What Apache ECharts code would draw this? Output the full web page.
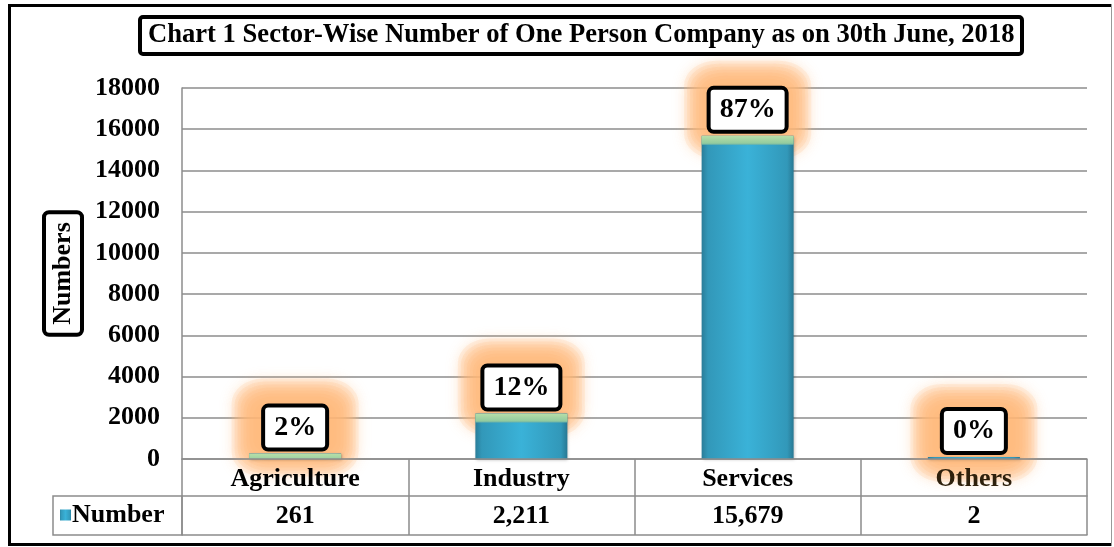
<!DOCTYPE html>
<html>
<head>
<meta charset="utf-8">
<script src="https://cdn.jsdelivr.net/npm/echarts@6/dist/echarts.min.js"></script>
<style>
html,body{margin:0;padding:0;background:#fff;}
#chart{width:1114px;height:547px;}
</style>
</head>
<body>
<div id="chart"></div>
<script>
const titleText = 'Chart 1 Sector-Wise Number of One Person Company as on 30th June, 2018';
const categories = ['Agriculture', 'Industry', 'Services', 'Others'];
const numbers = [261, 2211, 15679, 2];
const shareLabels = ['2%', '12%', '87%', '0%'];
const seriesName = 'Number';
const yAxisName = 'Numbers';
const yMin = 0, yMax = 18000, yStep = 2000;

const FONT = "'Liberation Serif', 'Times New Roman', serif";
const GRID = '#8c8c8c';

const barFill = {
  type: 'linear', x: 0, y: 0, x2: 1, y2: 0,
  colorStops: [
    {offset: 0, color: '#2a7d99'},
    {offset: 0.07, color: '#3298b9'},
    {offset: 0.5, color: '#3ab2d8'},
    {offset: 0.93, color: '#3298b9'},
    {offset: 1, color: '#287893'}
  ]
};
const bevelFill = {
  type: 'linear', x: 0, y: 0, x2: 0, y2: 1,
  colorStops: [
    {offset: 0, color: '#b7dfa9'},
    {offset: 0.8, color: '#94cc9f'},
    {offset: 1, color: '#6fb3a6'}
  ]
};

// glow layers around the percentage labels (style only)
const LABEL_W = 73, LABEL_H = 44, LABEL_CENTER_ABOVE = 26;
const glowSpread = [5, 9, 12, 15, 18, 21, 24, 27];
const glowSeries = glowSpread.map(function (e, k) {
  const w = LABEL_W + 2 * e, h = LABEL_H + 2 * e;
  return {
    name: 'glow' + k, type: 'pictorialBar', data: numbers, z: 1, silent: true,
    symbol: 'roundRect', symbolSize: [w, h], symbolPosition: 'end',
    symbolOffset: [0, -(h / 2 + LABEL_CENTER_ABOVE)],
    itemStyle: {color: '#fcb878', shadowColor: '#fcb878', shadowBlur: 14, opacity: 0.155}
  };
});

const chart = echarts.init(document.getElementById('chart'), null, {renderer: 'canvas'});

const option = {
  animation: false,
  backgroundColor: '#fff',
  title: {
    text: titleText,
    left: 140, top: 17,
    padding: [3, 8, 3, 8],
    borderColor: '#000', borderWidth: 4, borderRadius: 3,
    backgroundColor: '#fff',
    textStyle: {fontFamily: FONT, fontWeight: 'bold', fontSize: 26.6, lineHeight: 31, color: '#000'}
  },
  legend: {
    data: [seriesName],
    left: 60, top: 500, padding: 0,
    itemWidth: 11, itemHeight: 11, itemGap: 2,
    icon: 'rect',
    textStyle: {fontFamily: FONT, fontWeight: 'bold', fontSize: 26, lineHeight: 30, color: '#000', padding: [0, 0, 0, -4]}
  },
  grid: {left: 182, right: 27, top: 88, bottom: 88, containLabel: false},
  xAxis: [
    {
      type: 'category', data: categories, position: 'bottom', z: 5,
      axisLine: {show: true, lineStyle: {color: GRID, width: 1.5}},
      axisTick: {show: true, length: 76, interval: 0, lineStyle: {color: GRID, width: 1.5}},
      axisLabel: {
        interval: 0, margin: 5, fontFamily: FONT, fontWeight: 'bold', fontSize: 26, lineHeight: 30,
        color: function (v) { return v === 'Others' ? '#2e200c' : '#000'; }
      }
    },
    {
      type: 'category', data: categories, position: 'bottom', offset: 37,
      axisLine: {show: true, lineStyle: {color: GRID, width: 1.5}},
      axisTick: {show: false},
      axisLabel: {
        interval: 0, margin: 5, fontFamily: FONT, fontWeight: 'bold', fontSize: 26, lineHeight: 30, color: '#000',
        formatter: function (v, i) { return numbers[i].toLocaleString('en-US'); }
      }
    },
    {
      type: 'category', data: categories, position: 'bottom', offset: 76,
      axisLine: {show: true, lineStyle: {color: GRID, width: 1.5}},
      axisTick: {show: false}, axisLabel: {show: false}
    }
  ],
  yAxis: {
    type: 'value', min: yMin, max: yMax, interval: yStep,
    name: yAxisName, nameLocation: 'middle', nameRotate: 90, nameGap: 102,
    nameTextStyle: {
      fontFamily: FONT, fontWeight: 'bold', fontSize: 26, lineHeight: 30, color: '#000',
      borderColor: '#000', borderWidth: 4, borderRadius: 3, backgroundColor: '#fff',
      padding: [2, 8, 2, 8]
    },
    axisLine: {show: true, lineStyle: {color: GRID, width: 1.5}},
    axisTick: {show: false},
    splitLine: {show: true, lineStyle: {color: GRID, width: 1.5}},
    axisLabel: {
      margin: 22, fontFamily: FONT, fontWeight: 'bold', fontSize: 26, color: '#000',
      formatter: function (v) { return String(v); }
    }
  },
  series: glowSeries.concat([
    {
      name: seriesName, type: 'bar', data: numbers, barWidth: 92, barMinHeight: 2,
      z: 2,
      itemStyle: {color: barFill, shadowColor: 'rgba(0,0,0,0.25)', shadowBlur: 3, shadowOffsetX: 1, shadowOffsetY: 1},
      label: {
        show: true, position: 'top', distance: 6,
        formatter: function (p) { return shareLabels[p.dataIndex]; },
        fontFamily: FONT, fontWeight: 'bold', fontSize: 28, lineHeight: 32, color: '#000',
        backgroundColor: '#fff', borderColor: '#000', borderWidth: 4, borderRadius: 3,
        padding: [4, 9, 4, 9]
      }
    },
    {
      name: 'bevel', type: 'pictorialBar', data: numbers, z: 3,
      symbol: 'rect', symbolSize: [92, 9], symbolPosition: 'end', symbolClip: true,
      itemStyle: {color: bevelFill}
    }
  ]),
  graphic: [
    {type: 'rect', shape: {x: 53, y: 496, width: 129, height: 39}, style: {fill: 'none', stroke: GRID, lineWidth: 1.5}, z: 10},
    {type: 'line', shape: {x1: 9.5, y1: 4, x2: 9.5, y2: 546}, style: {stroke: '#000', lineWidth: 3}, z: 10},
    {type: 'line', shape: {x1: 8, y1: 5.5, x2: 1111, y2: 5.5}, style: {stroke: '#000', lineWidth: 3}, z: 10},
    {type: 'line', shape: {x1: 8, y1: 544.5, x2: 1111, y2: 544.5}, style: {stroke: '#000', lineWidth: 3}, z: 10},
    {type: 'line', shape: {x1: 1111.5, y1: 4, x2: 1111.5, y2: 546}, style: {stroke: '#999', lineWidth: 1}, z: 10}
  ]
};
chart.setOption(option);
</script>
</body>
</html>
